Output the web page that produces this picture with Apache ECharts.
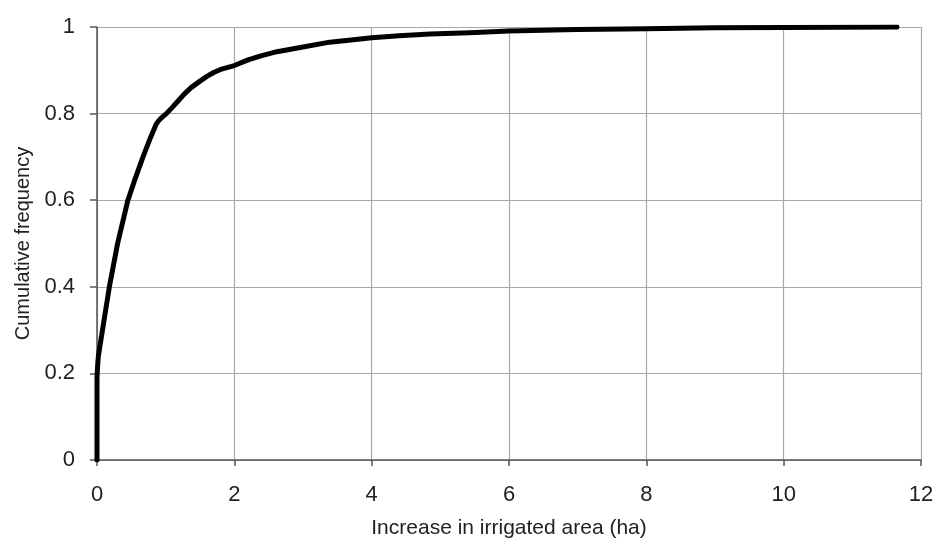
<!DOCTYPE html>
<html>
<head>
<meta charset="utf-8">
<script src="https://cdn.jsdelivr.net/npm/echarts@6/dist/echarts.min.js"></script>
<style>
html,body{margin:0;padding:0;background:#fff;}
#chart{width:938px;height:544px;}
</style>
</head>
<body>
<div id="chart"></div>
<script>
var xValues = [0, 0, 0.01, 0.02, 0.036, 0.1, 0.18, 0.3, 0.45, 0.55, 0.67, 0.78, 0.86, 0.89, 0.95, 1.01, 1.1, 1.18, 1.27, 1.37, 1.5, 1.6, 1.7, 1.8, 2.0, 2.2, 2.4, 2.62, 3.0, 3.39, 3.7, 4.0, 4.4, 4.85, 5.43, 6.0, 7.0, 8.0, 9.0, 10.0, 11.65];
var yValues = [0, 0.19, 0.22, 0.24, 0.256, 0.32, 0.40, 0.50, 0.60, 0.647, 0.70, 0.745, 0.775, 0.782, 0.792, 0.80, 0.815, 0.829, 0.845, 0.86, 0.875, 0.886, 0.895, 0.902, 0.911, 0.924, 0.934, 0.943, 0.954, 0.965, 0.970, 0.975, 0.980, 0.984, 0.987, 0.991, 0.994, 0.996, 0.998, 0.999, 1.0];
var xTitle = 'Increase in irrigated area (ha)';
var yTitle = 'Cumulative frequency';

var data = xValues.map(function (x, i) { return [x, yValues[i]]; });
var font = '"Liberation Sans", Arial, sans-serif';
var chart = echarts.init(document.getElementById('chart'), null, {renderer: 'canvas'});
chart.setOption({
  animation: false,
  backgroundColor: '#fff',
  grid: {left: 97, right: 17, top: 27, bottom: 83, containLabel: false},
  xAxis: {
    type: 'value', min: 0, max: 12, interval: 2,
    name: xTitle, nameLocation: 'middle', nameGap: 58,
    nameTextStyle: {fontFamily: font, fontSize: 21, color: '#222'},
    axisLine: {show: true, onZero: false, lineStyle: {color: '#555', width: 1.5}},
    axisTick: {show: true, inside: false, length: 6, lineStyle: {color: '#555', width: 1.5}},
    axisLabel: {fontFamily: font, fontSize: 22, color: '#222', margin: 24},
    splitLine: {show: true, lineStyle: {color: '#a8a8a8', width: 1.2}}
  },
  yAxis: {
    type: 'value', min: 0, max: 1, interval: 0.2,
    name: yTitle, nameLocation: 'middle', nameGap: 62, nameRotate: 90,
    nameTextStyle: {fontFamily: font, fontSize: 20, color: '#222'},
    axisLine: {show: true, onZero: false, lineStyle: {color: '#555', width: 1.5}},
    axisTick: {show: true, inside: false, length: 7, lineStyle: {color: '#555', width: 1.5}},
    axisLabel: {fontFamily: font, fontSize: 22, color: '#222', margin: 22,
      formatter: function (v) { return String(Math.round(v * 10) / 10); }},
    splitLine: {show: true, lineStyle: {color: '#a8a8a8', width: 1.2}}
  },
  series: [{
    type: 'line', data: data, showSymbol: false, symbol: 'none', smooth: false,
    lineStyle: {color: '#000', width: 5, join: 'round', cap: 'round'}
  }]
});
</script>
</body>
</html>
